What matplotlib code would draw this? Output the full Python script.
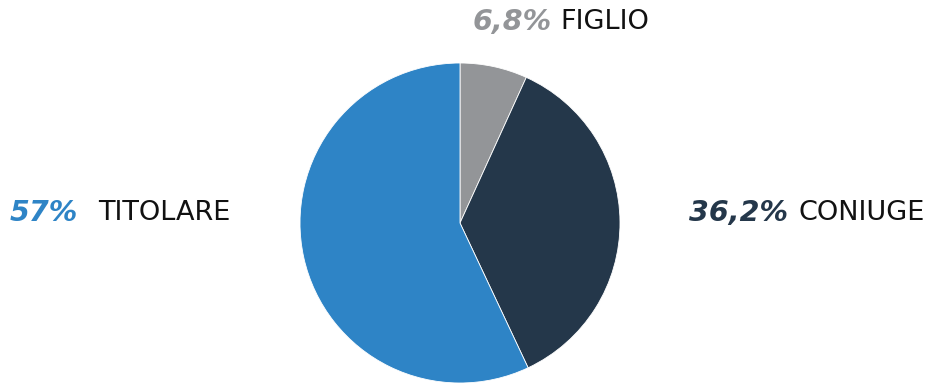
import matplotlib.pyplot as plt

labels = ["FIGLIO", "CONIUGE", "TITOLARE"]
values = [6.8, 36.2, 57.0]
value_labels = ["6,8%", "36,2%", "57%"]
colors = ["#939598", "#24374a", "#2e84c6"]

W, H = 933, 385
fig = plt.figure(figsize=(W / 100, H / 100), dpi=100)
ax = fig.add_axes([0, 0, 1, 1])

ax.pie(values, colors=colors, startangle=90, counterclock=False,
       center=(460, H - 223), radius=160, frame=True,
       wedgeprops=dict(edgecolor="white", linewidth=0.6))
ax.set_xlim(0, W)
ax.set_ylim(0, H)
ax.axis("off")

# posizione (x percentuale, x etichetta, y) in pixel
pos = [(473, 560, 22), (689, 799, 213), (10, 98, 213)]
for (xp, xl, yp), lab, vl, c in zip(pos, labels, value_labels, colors):
    ax.text(xp, H - yp, vl, color=c, fontsize=20.5, fontweight="bold",
            fontstyle="italic", family="DejaVu Sans", ha="left", va="center")
    ax.text(xl, H - yp, lab, color="#111111", fontsize=19.5,
            family="DejaVu Sans", ha="left", va="center")

fig.savefig("out.png", dpi=100)
